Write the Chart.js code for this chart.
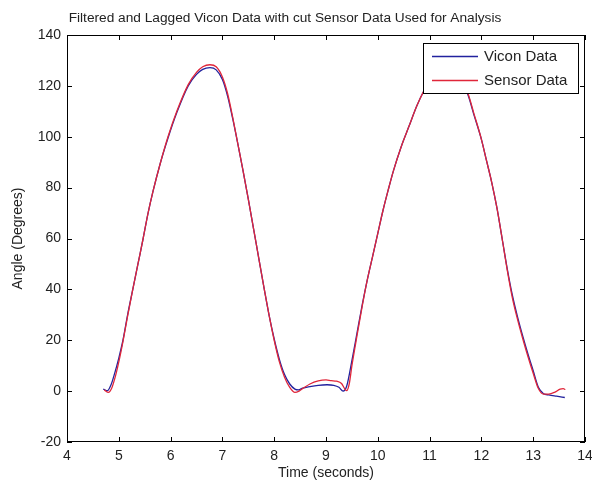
<!DOCTYPE html>
<html lang="en">

<head>
    <meta charset="UTF-8">
    <meta name="viewport" content="width=device-width, initial-scale=1.0">
    <title>Filtered and Lagged Vicon Data</title>
    <script src="https://cdn.jsdelivr.net/npm/chart.js"></script>
    <style>
        html, body {
            margin: 0;
            padding: 0;
            background: #fff;
        }

        #wrap {
            width: 592px;
            height: 484px;
        }
    </style>
</head>

<body>
    <div id="wrap"><canvas id="myChart" width="592" height="484"></canvas></div>

    <script>
// Vicon angle trace (time in seconds, angle in degrees)
const viconTime = [4.70, 4.78, 4.85, 4.92, 5.00, 5.08, 5.17, 5.27, 5.37, 5.47, 5.56, 5.66, 5.80, 5.95, 6.12, 6.34, 6.50, 6.62, 6.76, 6.88, 7.00, 7.10, 7.20, 7.30, 7.40, 7.50, 7.60, 7.70, 7.80, 7.90, 8.00, 8.10, 8.20, 8.30, 8.40, 8.47, 8.55, 8.69, 8.85, 9.02, 9.15, 9.25, 9.33, 9.40, 9.50, 9.60, 9.70, 9.80, 9.90, 10.00, 10.10, 10.20, 10.30, 10.45, 10.60, 10.75, 10.90, 11.05, 11.25, 11.40, 11.55, 11.74, 11.85, 12.00, 12.10, 12.20, 12.30, 12.40, 12.50, 12.60, 12.70, 12.80, 12.90, 13.00, 13.10, 13.20, 13.30, 13.45, 13.61];
const viconAngle = [0.8, 0.2, 2.5, 7, 13, 20, 30, 40, 50, 60, 69.5, 78.5, 89.5, 99.5, 109.5, 120, 124.5, 126.5, 127.2, 126.3, 122.5, 116, 107, 97, 86.5, 75.5, 64, 52.5, 41, 30, 20.5, 12.5, 6.5, 2.8, 0.8, 0.5, 1.2, 1.8, 2.3, 2.5, 2.3, 1.5, 0, 2, 12, 23, 34, 44, 53, 62, 71, 79, 86.5, 96, 104, 112, 118.5, 123.5, 126.5, 126.5, 123.5, 116.5, 109, 99, 90.5, 82, 72, 60, 48, 37.5, 29, 21.5, 14.5, 8, 1.5, -1, -1.5, -2, -2.5];

// cut sensor angle trace
const sensorTime = [4.72, 4.80, 4.86, 4.93, 5.00, 5.08, 5.17, 5.27, 5.37, 5.47, 5.56, 5.66, 5.80, 5.95, 6.12, 6.34, 6.50, 6.62, 6.76, 6.88, 7.00, 7.10, 7.20, 7.30, 7.40, 7.50, 7.60, 7.70, 7.80, 7.90, 8.00, 8.10, 8.20, 8.30, 8.40, 8.48, 8.55, 8.69, 8.85, 9.00, 9.10, 9.20, 9.30, 9.36, 9.40, 9.45, 9.50, 9.60, 9.70, 9.80, 9.90, 10.00, 10.10, 10.20, 10.30, 10.45, 10.60, 10.75, 10.90, 11.05, 11.25, 11.40, 11.55, 11.74, 11.85, 12.00, 12.10, 12.20, 12.30, 12.40, 12.50, 12.60, 12.70, 12.80, 12.90, 13.00, 13.10, 13.20, 13.30, 13.42, 13.52, 13.58, 13.62];
const sensorAngle = [0.5, -0.5, 1, 5.5, 11.5, 19.5, 29.5, 40, 50, 60, 69.5, 78.5, 89.5, 100, 110, 120.5, 125.3, 127.5, 128.3, 127.5, 123.5, 117, 107.5, 97, 86.5, 75.5, 64, 52.5, 41, 30, 20, 11.5, 5.5, 1.5, -0.5, 0, 1, 2.8, 4, 4.4, 4.1, 3.9, 3, 1, 0.2, 3, 10, 22, 33.5, 44, 53, 62, 71, 79, 86.5, 96, 104, 112, 118.5, 124, 127.5, 127.5, 124, 117, 109.5, 99, 90.5, 82, 72, 60, 47.5, 36.5, 28, 20.5, 13.5, 7, 1, -1.2, -1.2, -0.4, 0.8, 1, 0.6];

// axis ticks
const xTicks = [4, 5, 6, 7, 8, 9, 10, 11, 12, 13, 14];
const yTicks = [-20, 0, 20, 40, 60, 80, 100, 120, 140];

const chartTitle = 'Filtered and Lagged Vicon Data with cut Sensor Data Used for Analysis';
const seriesNames = ['Vicon Data', 'Sensor Data'];
const seriesColors = ['#22229e', '#e0263a'];

function toPoints(xs, ys) {
    return xs.map((t, i) => ({ x: t, y: ys[i] }));
}

const fontFamily = '"Liberation Sans", Arial, sans-serif';

// MATLAB style box with inward ticks on all four sides, plus title and legend
const boxAxes = {
    id: 'boxAxes',
    afterDatasetsDraw(chart) {
        const { ctx, chartArea: a, scales: { x, y } } = chart;
        ctx.save();
        ctx.strokeStyle = '#000';
        ctx.lineWidth = 1;
        ctx.beginPath();
        xTicks.forEach(v => {
            const px = Math.round(x.getPixelForValue(v)) + 0.5;
            ctx.moveTo(px, a.bottom);
            ctx.lineTo(px, a.bottom - 5);
            ctx.moveTo(px, a.top);
            ctx.lineTo(px, a.top + 5);
        });
        yTicks.forEach(v => {
            const py = Math.round(y.getPixelForValue(v)) + 0.5;
            ctx.moveTo(a.left, py);
            ctx.lineTo(a.left + 5, py);
            ctx.moveTo(a.right, py);
            ctx.lineTo(a.right - 5, py);
        });
        ctx.stroke();
        ctx.strokeRect(Math.round(a.left) + 0.5, Math.round(a.top) + 0.5,
            Math.round(a.right - a.left) - 1, Math.round(a.bottom - a.top) - 1);
        ctx.restore();
    },
    afterDraw(chart) {
        const { ctx, chartArea: a } = chart;
        ctx.save();

        // title, sitting a little left of the axes centre
        ctx.fillStyle = '#222';
        ctx.font = '13.7px ' + fontFamily;
        ctx.textAlign = 'center';
        ctx.textBaseline = 'middle';
        ctx.fillText(chartTitle, (a.left + a.right) / 2 - 41, a.top - 17);

        // legend box in the upper right corner of the axes
        const w = 155, h = 50;
        const left = Math.round(a.right) - 7 - w;
        const top = Math.round(a.top) + 8;
        ctx.fillStyle = '#fff';
        ctx.fillRect(left, top, w, h);
        ctx.strokeStyle = '#000';
        ctx.lineWidth = 1;
        ctx.strokeRect(left + 0.5, top + 0.5, w, h);
        ctx.font = '15px ' + fontFamily;
        ctx.textAlign = 'left';
        seriesNames.forEach((name, i) => {
            const cy = top + 13 + i * 24;
            ctx.strokeStyle = seriesColors[i];
            ctx.lineWidth = 1.3;
            ctx.beginPath();
            ctx.moveTo(left + 9, cy + 0.5);
            ctx.lineTo(left + 55, cy + 0.5);
            ctx.stroke();
            ctx.fillStyle = '#222';
            ctx.fillText(name, left + 61, cy + 1);
        });
        ctx.restore();
    }
};

const ctx = document.getElementById('myChart').getContext('2d');
const chart = new Chart(ctx, {
    type: 'line',
    data: {
        datasets: [{
            label: seriesNames[0],
            data: toPoints(viconTime, viconAngle),
            borderColor: seriesColors[0],
            borderWidth: 1.3,
            pointRadius: 0,
            cubicInterpolationMode: 'monotone',
            fill: false,
            order: 1
        },
        {
            label: seriesNames[1],
            data: toPoints(sensorTime, sensorAngle),
            borderColor: seriesColors[1],
            borderWidth: 1.3,
            pointRadius: 0,
            cubicInterpolationMode: 'monotone',
            fill: false,
            order: 0
        }]
    },
    options: {
        responsive: false,
        animation: false,
        layout: {
            padding: { left: 0, right: 7, top: 35, bottom: 0 }
        },
        plugins: {
            legend: { display: false },
            tooltip: { enabled: false },
            title: { display: false }
        },
        scales: {
            x: {
                type: 'linear',
                min: 4,
                max: 14,
                afterBuildTicks: s => { s.ticks = xTicks.map(v => ({ value: v })); },
                afterFit: s => { s.height = 42; s.paddingLeft = 0; s.paddingRight = 0; },
                grid: { display: false, drawTicks: false },
                border: { display: false },
                ticks: {
                    color: '#222',
                    padding: 6,
                    maxRotation: 0,
                    font: { family: fontFamily, size: 14 }
                },
                title: {
                    display: true,
                    text: 'Time (seconds)',
                    color: '#222',
                    font: { family: fontFamily, size: 14 },
                    padding: { top: 0, bottom: 2 }
                }
            },
            y: {
                type: 'linear',
                min: -20,
                max: 140,
                afterBuildTicks: s => { s.ticks = yTicks.map(v => ({ value: v })); },
                afterFit: s => { s.width = 67; },
                grid: { display: false, drawTicks: false },
                border: { display: false },
                ticks: {
                    color: '#222',
                    padding: 6,
                    font: { family: fontFamily, size: 14 }
                },
                title: {
                    display: true,
                    text: 'Angle (Degrees)',
                    color: '#222',
                    font: { family: fontFamily, size: 14 },
                    padding: { top: 10, bottom: 0 }
                }
            }
        }
    },
    plugins: [boxAxes]
});
    </script>
</body>

</html>
